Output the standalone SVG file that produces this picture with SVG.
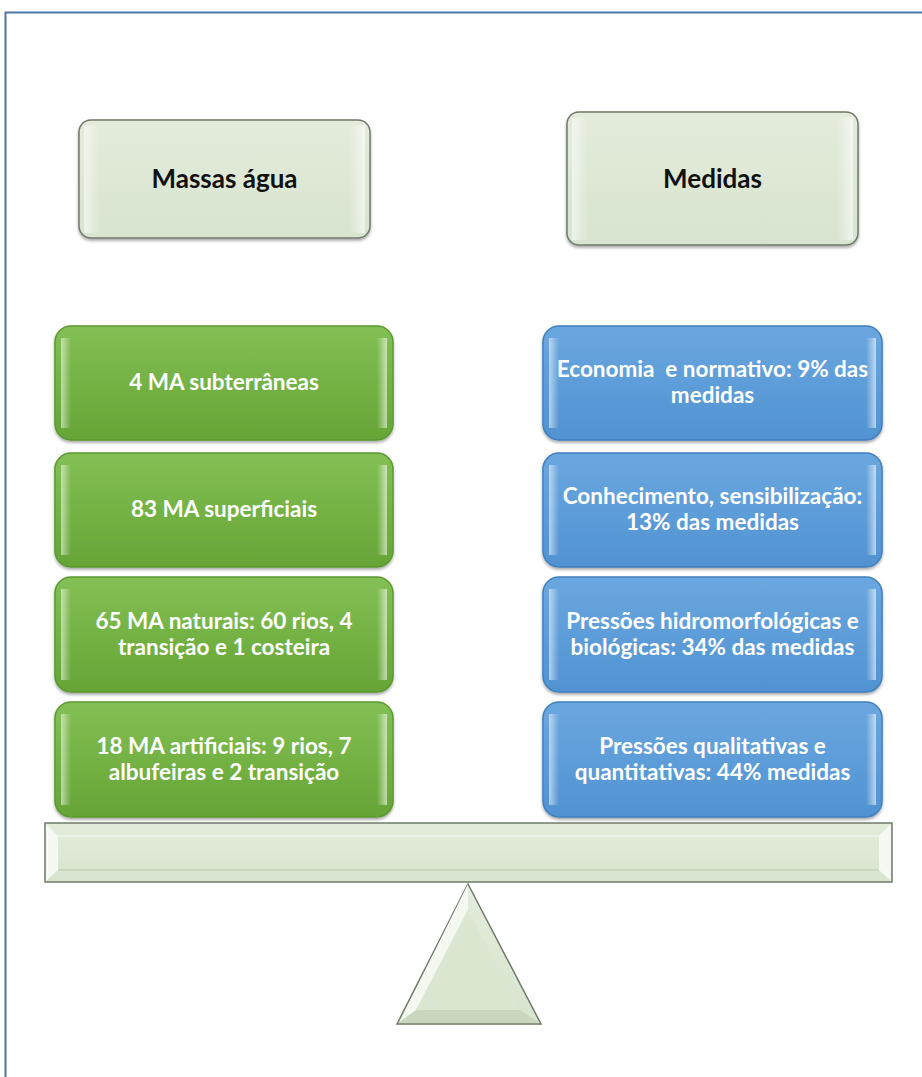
<svg xmlns="http://www.w3.org/2000/svg" width="922" height="1077" viewBox="0 0 922 1077">
<defs>
<linearGradient id="gGreen" x1="0" y1="0" x2="0" y2="1">
<stop offset="0" stop-color="#84c055"/><stop offset="0.5" stop-color="#74b244"/><stop offset="1" stop-color="#66a437"/>
</linearGradient>
<linearGradient id="gBlue" x1="0" y1="0" x2="0" y2="1">
<stop offset="0" stop-color="#6ca7df"/><stop offset="0.5" stop-color="#5d9dd9"/><stop offset="1" stop-color="#5192d1"/>
</linearGradient>
<linearGradient id="gPale" x1="0" y1="0" x2="0" y2="1">
<stop offset="0" stop-color="#e3ecdb"/><stop offset="1" stop-color="#d8e4cf"/>
</linearGradient>
<linearGradient id="hiL" x1="0" y1="0" x2="1" y2="0">
<stop offset="0" stop-color="#ffffff" stop-opacity="0.55"/><stop offset="1" stop-color="#ffffff" stop-opacity="0"/>
</linearGradient>
<linearGradient id="hiR" x1="1" y1="0" x2="0" y2="0">
<stop offset="0" stop-color="#ffffff" stop-opacity="0.6"/><stop offset="1" stop-color="#ffffff" stop-opacity="0"/>
</linearGradient>
<filter id="sh" x="-10%" y="-10%" width="120%" height="130%">
<feDropShadow dx="0" dy="2" stdDeviation="1.5" flood-color="#000" flood-opacity="0.35"/>
</filter>
</defs>
<style>
.green{fill:url(#gGreen);stroke:#5a9a2e;stroke-width:1.5}
.blue{fill:url(#gBlue);stroke:#3f7fbf;stroke-width:1.5}
.pale{fill:url(#gPale);stroke:#6f7a6a;stroke-width:1.5}
.t{font-family:Lato,"Open Sans","Liberation Sans",sans-serif;font-weight:bold;font-size:22.5px;text-anchor:middle;white-space:pre}
.w{fill:#ffffff}
.k{fill:#111111;font-size:26px}
</style>
<rect x="5.5" y="12.5" width="930" height="1080" fill="#ffffff" stroke="#4a77a8" stroke-width="2"/>

<g id="hdr-left">
<rect class="pale" x="79" y="120" width="291" height="118" rx="12" filter="url(#sh)"/>
<rect x="84" y="125" width="16" height="108" fill="url(#hiL)"/>
<rect x="349" y="125" width="16" height="108" fill="url(#hiR)"/>
<text class="t k" x="224.5" y="188">Massas água</text>
</g>
<g id="hdr-right">
<rect class="pale" x="567" y="112" width="291" height="133" rx="12" filter="url(#sh)"/>
<rect x="572" y="117" width="16" height="123" fill="url(#hiL)"/>
<rect x="837" y="117" width="16" height="123" fill="url(#hiR)"/>
<text class="t k" x="712.5" y="188">Medidas</text>
</g>

<g id="g1">
<rect class="green" x="55" y="326" width="338" height="114" rx="16" filter="url(#sh)"/>
<rect x="61" y="338" width="10" height="90" fill="url(#hiL)"/>
<rect x="377" y="338" width="10" height="90" fill="url(#hiR)"/>
<text class="t w" x="224" y="390">4 MA subterrâneas</text>
</g>
<g id="g2">
<rect class="green" x="55" y="453" width="338" height="114" rx="16" filter="url(#sh)"/>
<rect x="61" y="465" width="10" height="90" fill="url(#hiL)"/>
<rect x="377" y="465" width="10" height="90" fill="url(#hiR)"/>
<text class="t w" x="224" y="517">83 MA superficiais</text>
</g>
<g id="g3">
<rect class="green" x="55" y="577" width="338" height="115" rx="16" filter="url(#sh)"/>
<rect x="61" y="589" width="10" height="91" fill="url(#hiL)"/>
<rect x="377" y="589" width="10" height="91" fill="url(#hiR)"/>
<text class="t w" x="224" y="629">65 MA naturais: 60 rios, 4</text>
<text class="t w" x="224" y="655">transição e 1 costeira</text>
</g>
<g id="g4">
<rect class="green" x="55" y="702" width="338" height="115" rx="16" filter="url(#sh)"/>
<rect x="61" y="714" width="10" height="91" fill="url(#hiL)"/>
<rect x="377" y="714" width="10" height="91" fill="url(#hiR)"/>
<text class="t w" x="224" y="754">18 MA artificiais: 9 rios, 7</text>
<text class="t w" x="224" y="780">albufeiras e 2 transição</text>
</g>

<g id="b1">
<rect class="blue" x="543" y="326" width="339" height="114" rx="16" filter="url(#sh)"/>
<rect x="549" y="338" width="10" height="90" fill="url(#hiL)"/>
<rect x="866" y="338" width="10" height="90" fill="url(#hiR)"/>
<text class="t w" x="712.5" y="377" xml:space="preserve">Economia  e normativo: 9% das</text>
<text class="t w" x="712.5" y="403">medidas</text>
</g>
<g id="b2">
<rect class="blue" x="543" y="453" width="339" height="114" rx="16" filter="url(#sh)"/>
<rect x="549" y="465" width="10" height="90" fill="url(#hiL)"/>
<rect x="866" y="465" width="10" height="90" fill="url(#hiR)"/>
<text class="t w" x="712.5" y="504">Conhecimento, sensibilização:</text>
<text class="t w" x="712.5" y="530">13% das medidas</text>
</g>
<g id="b3">
<rect class="blue" x="543" y="577" width="339" height="115" rx="16" filter="url(#sh)"/>
<rect x="549" y="589" width="10" height="91" fill="url(#hiL)"/>
<rect x="866" y="589" width="10" height="91" fill="url(#hiR)"/>
<text class="t w" x="712.5" y="629">Pressões hidromorfológicas e</text>
<text class="t w" x="712.5" y="655">biológicas: 34% das medidas</text>
</g>
<g id="b4">
<rect class="blue" x="543" y="702" width="339" height="115" rx="16" filter="url(#sh)"/>
<rect x="549" y="714" width="10" height="91" fill="url(#hiL)"/>
<rect x="866" y="714" width="10" height="91" fill="url(#hiR)"/>
<text class="t w" x="712.5" y="754">Pressões qualitativas e</text>
<text class="t w" x="712.5" y="780">quantitativas: 44% medidas</text>
</g>

<g id="beam">
<rect class="pale" x="45" y="823" width="847" height="59"/>
<polygon points="46,824 58,836 58,870 46,881" fill="#f6f9f3"/>
<polygon points="891,824 879,836 879,870 891,881" fill="#f6f9f3"/>
<line x1="58" y1="836" x2="879" y2="836" stroke="#eef3ea" stroke-width="2"/>
<line x1="58" y1="870" x2="879" y2="870" stroke="#c8d6bd" stroke-width="2"/>
</g>

<g id="fulcrum">
<polygon class="pale" points="468,884 541,1024 397,1024"/>
<polygon points="468,884 468,910 416,1010 399,1023" fill="#f4f8f1"/>
<polygon points="468,910 416,1010 520,1010" fill="#dce7d2"/>
<polygon points="416,1010 520,1010 540,1023 398,1023" fill="#c9d7be"/>
</g>

<g id="connectors"></g>
</svg>
